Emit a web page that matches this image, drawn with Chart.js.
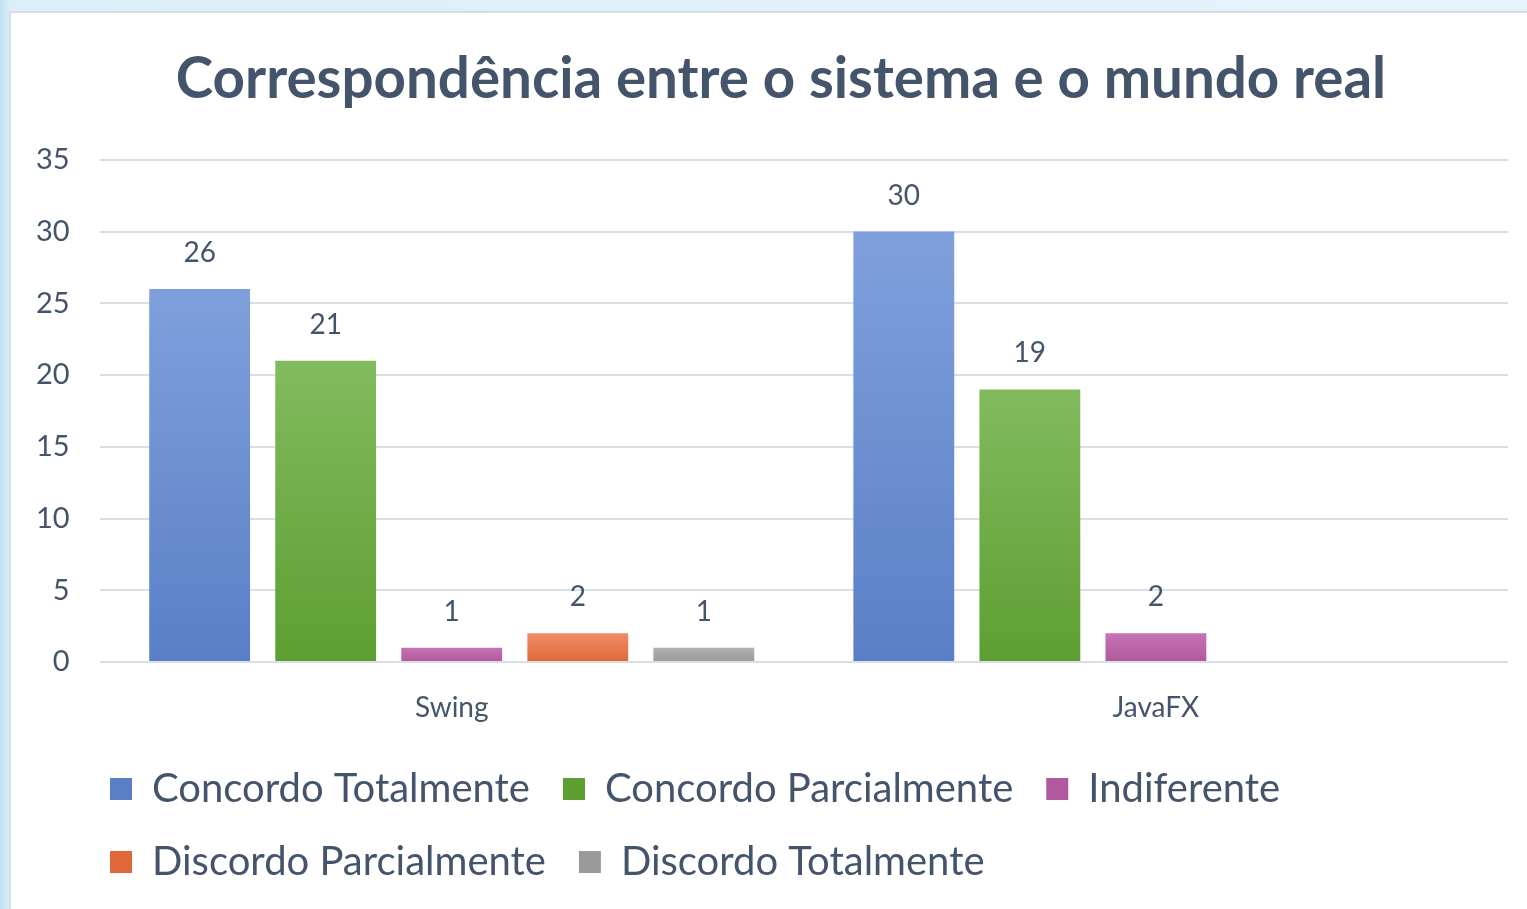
<!DOCTYPE html>
<html>
<head>
<meta charset="utf-8">
<script src="https://cdn.jsdelivr.net/npm/chart.js@4.4.1/dist/chart.umd.min.js"></script>
<style>
    html, body { margin: 0; padding: 0; }
    body { width: 1527px; height: 909px; overflow: hidden; background: linear-gradient(90deg, #bfe1f4 0px, #dceef9 10px, #e6f3fb 100%); }
    #panel { position: absolute; left: 9px; top: 11px; right: 0; bottom: 0; background: #fff; border-left: 2px solid #d6dde6; border-top: 2px solid #d6dde6; }
    #wrap { position: absolute; left: 0; top: 0; width: 1527px; height: 909px; }
</style>
</head>
<body>
<div id="panel"></div>
<div id="wrap"><canvas id="chart"></canvas></div>
<script>
// dados do gráfico
const categorias = ['Swing', 'JavaFX'];
const series = ['Concordo Totalmente', 'Concordo Parcialmente', 'Indiferente', 'Discordo Parcialmente', 'Discordo Totalmente'];
const concordoTotalmente = [26, 30];
const concordoParcialmente = [21, 19];
const indiferente = [1, 2];
const discordoParcialmente = [2, null];
const discordoTotalmente = [1, null];
const yTicks = ['0', '5', '10', '15', '20', '25', '30', '35'];

const FONT = 'Lato, "Open Sans", sans-serif';
const TEXT = '#44546A';

// cores (topo, base) de cada série
const cores = [
    ['#7fa0dc', '#5a7fc6'],
    ['#82bb5e', '#5d9f31'],
    ['#c672b3', '#b1599e'],
    ['#f08d66', '#e0683a'],
    ['#b2b1af', '#9b9a98']
];

function gradiente(i) {
    return function(ctx) {
        const chart = ctx.chart;
        const y = chart.scales && chart.scales.y;
        if (!chart.chartArea || !y || ctx.raw == null) return cores[i][1];
        const top = y.getPixelForValue(ctx.raw);
        const base = y.getPixelForValue(0);
        if (base - top < 1) return cores[i][1];
        const g = chart.ctx.createLinearGradient(0, top, 0, base);
        g.addColorStop(0, cores[i][0]);
        g.addColorStop(1, cores[i][1]);
        return g;
    };
}

// rótulos de valor acima das barras
const rotulosPlugin = {
    id: 'rotulos',
    afterDatasetsDraw(chart) {
        const ctx = chart.ctx;
        ctx.save();
        ctx.font = '28px ' + FONT;
        ctx.fillStyle = TEXT;
        ctx.textAlign = 'center';
        ctx.textBaseline = 'middle';
        chart.data.datasets.forEach((ds, i) => {
            const meta = chart.getDatasetMeta(i);
            meta.data.forEach((bar, j) => {
                const v = ds.data[j];
                if (v == null) return;
                ctx.fillText(String(v), bar.x, bar.y - 36);
            });
        });
        ctx.restore();
    }
};

// legenda e título um pouco mais à direita, como no original
const alinharPlugin = {
    id: 'alinhar',
    afterLayout(chart) {
        chart.legend.left = 77;
        chart.titleBlock.left = 54;
    }
};

const valores = [concordoTotalmente, concordoParcialmente, indiferente, discordoParcialmente, discordoTotalmente];

new Chart(document.getElementById('chart'), {
    type: 'bar',
    data: {
        labels: categorias,
        datasets: series.map((nome, i) => ({
            label: nome,
            data: valores[i],
            backgroundColor: gradiente(i),
            categoryPercentage: 0.895,
            barPercentage: 0.8
        }))
    },
    options: {
        responsive: true,
        maintainAspectRatio: false,
        animation: false,
        layout: {
            padding: { left: 6, right: 19, top: 12, bottom: 17 }
        },
        plugins: {
            title: {
                display: true,
                text: 'Correspondência entre o sistema e o mundo real',
                color: TEXT,
                font: { family: FONT, size: 56.5, weight: 'bold' },
                padding: { top: 34, bottom: 46 }
            },
            legend: {
                position: 'bottom',
                align: 'start',
                labels: {
                    color: TEXT,
                    font: { family: FONT, size: 40 },
                    boxWidth: 22,
                    boxHeight: 22,
                    padding: 33,
                    generateLabels(chart) {
                        return chart.data.datasets.map((ds, i) => ({
                            text: ds.label,
                            fillStyle: cores[i][1],
                            strokeStyle: cores[i][1],
                            lineWidth: 0,
                            fontColor: TEXT,
                            datasetIndex: i
                        }));
                    }
                }
            },
            tooltip: { enabled: false }
        },
        scales: {
            x: {
                grid: { display: false },
                border: { display: false },
                ticks: {
                    color: TEXT,
                    font: { family: FONT, size: 28 },
                    padding: 21
                },
                afterFit(scale) { scale.height = 74; }
            },
            y: {
                min: 0,
                max: 35,
                grid: { color: '#d9dfe7', lineWidth: 2, drawTicks: false },
                border: { display: false },
                ticks: {
                    stepSize: 5,
                    color: TEXT,
                    font: { family: FONT, size: 29 },
                    padding: 30,
                    callback: (value, index) => yTicks[index]
                }
            }
        }
    },
    plugins: [rotulosPlugin, alinharPlugin]
});
</script>
</body>
</html>
